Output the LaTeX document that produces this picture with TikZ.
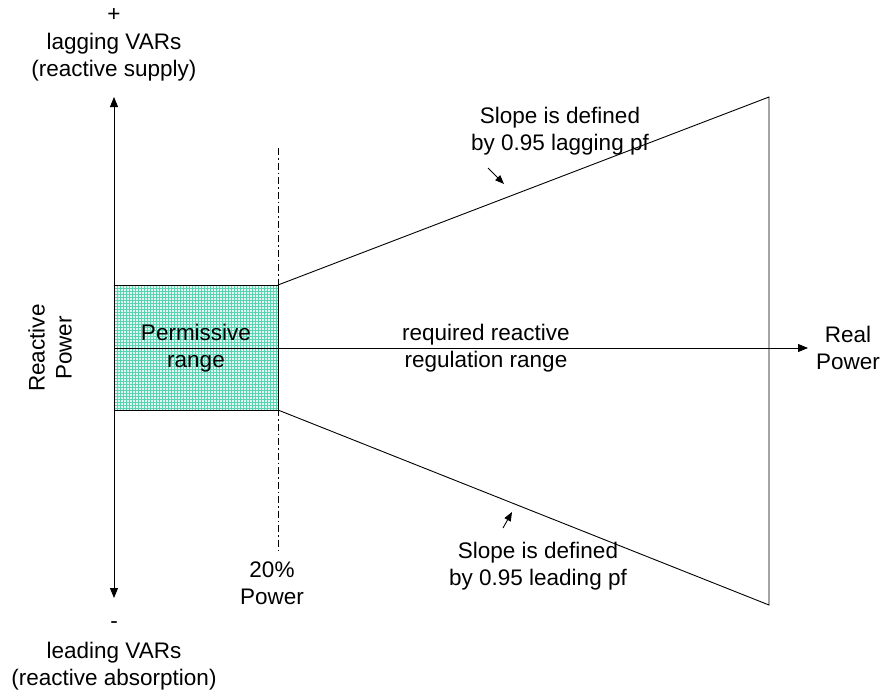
\documentclass[tikz,border=0pt]{standalone}
\usepackage{fontspec}
\setmainfont{Liberation Sans}
\usetikzlibrary{arrows.meta}
\definecolor{gridc}{RGB}{90,210,180}
\definecolor{gridbg}{RGB}{225,248,241}
\begin{document}
\begin{tikzpicture}[x=1pt,y=-1pt,
  lbl/.style={font=\fontsize{22.5}{27}\selectfont,align=center,inner sep=0pt},
  ax/.style={line width=0.9pt,-{Triangle[length=10pt,width=8pt]}},
  ln/.style={line width=0.9pt},
  gl/.style={gridc,line width=0.4pt},
  pt/.style={line width=0.9pt,-{Triangle[length=9pt,width=7pt]}}]
\useasboundingbox (0,0) rectangle (882,696);
% coordinates
\coordinate (O) at (114,348);
\coordinate (top) at (114,97);
\coordinate (bot) at (114,598);
\coordinate (xend) at (808,348);
\coordinate (bl) at (114,410);
\coordinate (tr) at (278,285);
\coordinate (br) at (278,410);
\coordinate (tl) at (114,285);
\coordinate (ur) at (769,97);
\coordinate (lr) at (769,605);
\coordinate (dtop) at (278,148);
\coordinate (dbot) at (278,552);
% permissive box
\fill[gridbg] (bl) rectangle (tr);
\foreach \gx in {117,120,...,276} {\draw[gl] (\gx,285) -- (\gx,410);}
\foreach \gy in {288,291,...,408} {\draw[gl] (114,\gy) -- (278,\gy);}
\draw[ln] (tl) -- (tr) -- (br) -- (bl);
% dashed line
\draw[line width=0.6pt,dash pattern=on 7pt off 3pt on 1.5pt off 3pt] (dtop) -- (dbot);
% funnel
\draw[ln] (tr) -- (ur) -- (lr) -- (br);
% axes
\draw[ax] (O) -- (top);
\draw[ax] (O) -- (bot);
\draw[ax] (O) -- (xend);
% labels
\node[lbl] (plus) at (114,15) {+};
\node[lbl] (lag) at (114,57) {lagging VARs\\(reactive supply)};
\node[lbl] (minus) at (114,625) {-};
\node[lbl] (lead) at (114,666) {leading VARs\\(reactive absorption)};
\node[lbl,rotate=90] (rp) at (50,348) {Reactive\\Power};
\node[lbl] (perm) at (196,348) {Permissive\\range};
\node[lbl] (req) at (486,348) {required reactive\\regulation range};
\node[lbl] (real) at (848,348) {Real\\Power};
\node[lbl] (s1) at (560,131) {Slope is defined\\by 0.95 lagging pf};
\node[lbl] (s2) at (538,566) {Slope is defined\\by 0.95 leading pf};
\node[lbl] (pc) at (272,583) {20\%\\Power};
\coordinate (a1s) at (488,168);
\coordinate (a1e) at (504,184);
\coordinate (a2s) at (503,528);
\coordinate (a2e) at (512,512);
\draw[pt] (a1s) -- (a1e);
\draw[pt] (a2s) -- (a2e);
\end{tikzpicture}
\end{document}
